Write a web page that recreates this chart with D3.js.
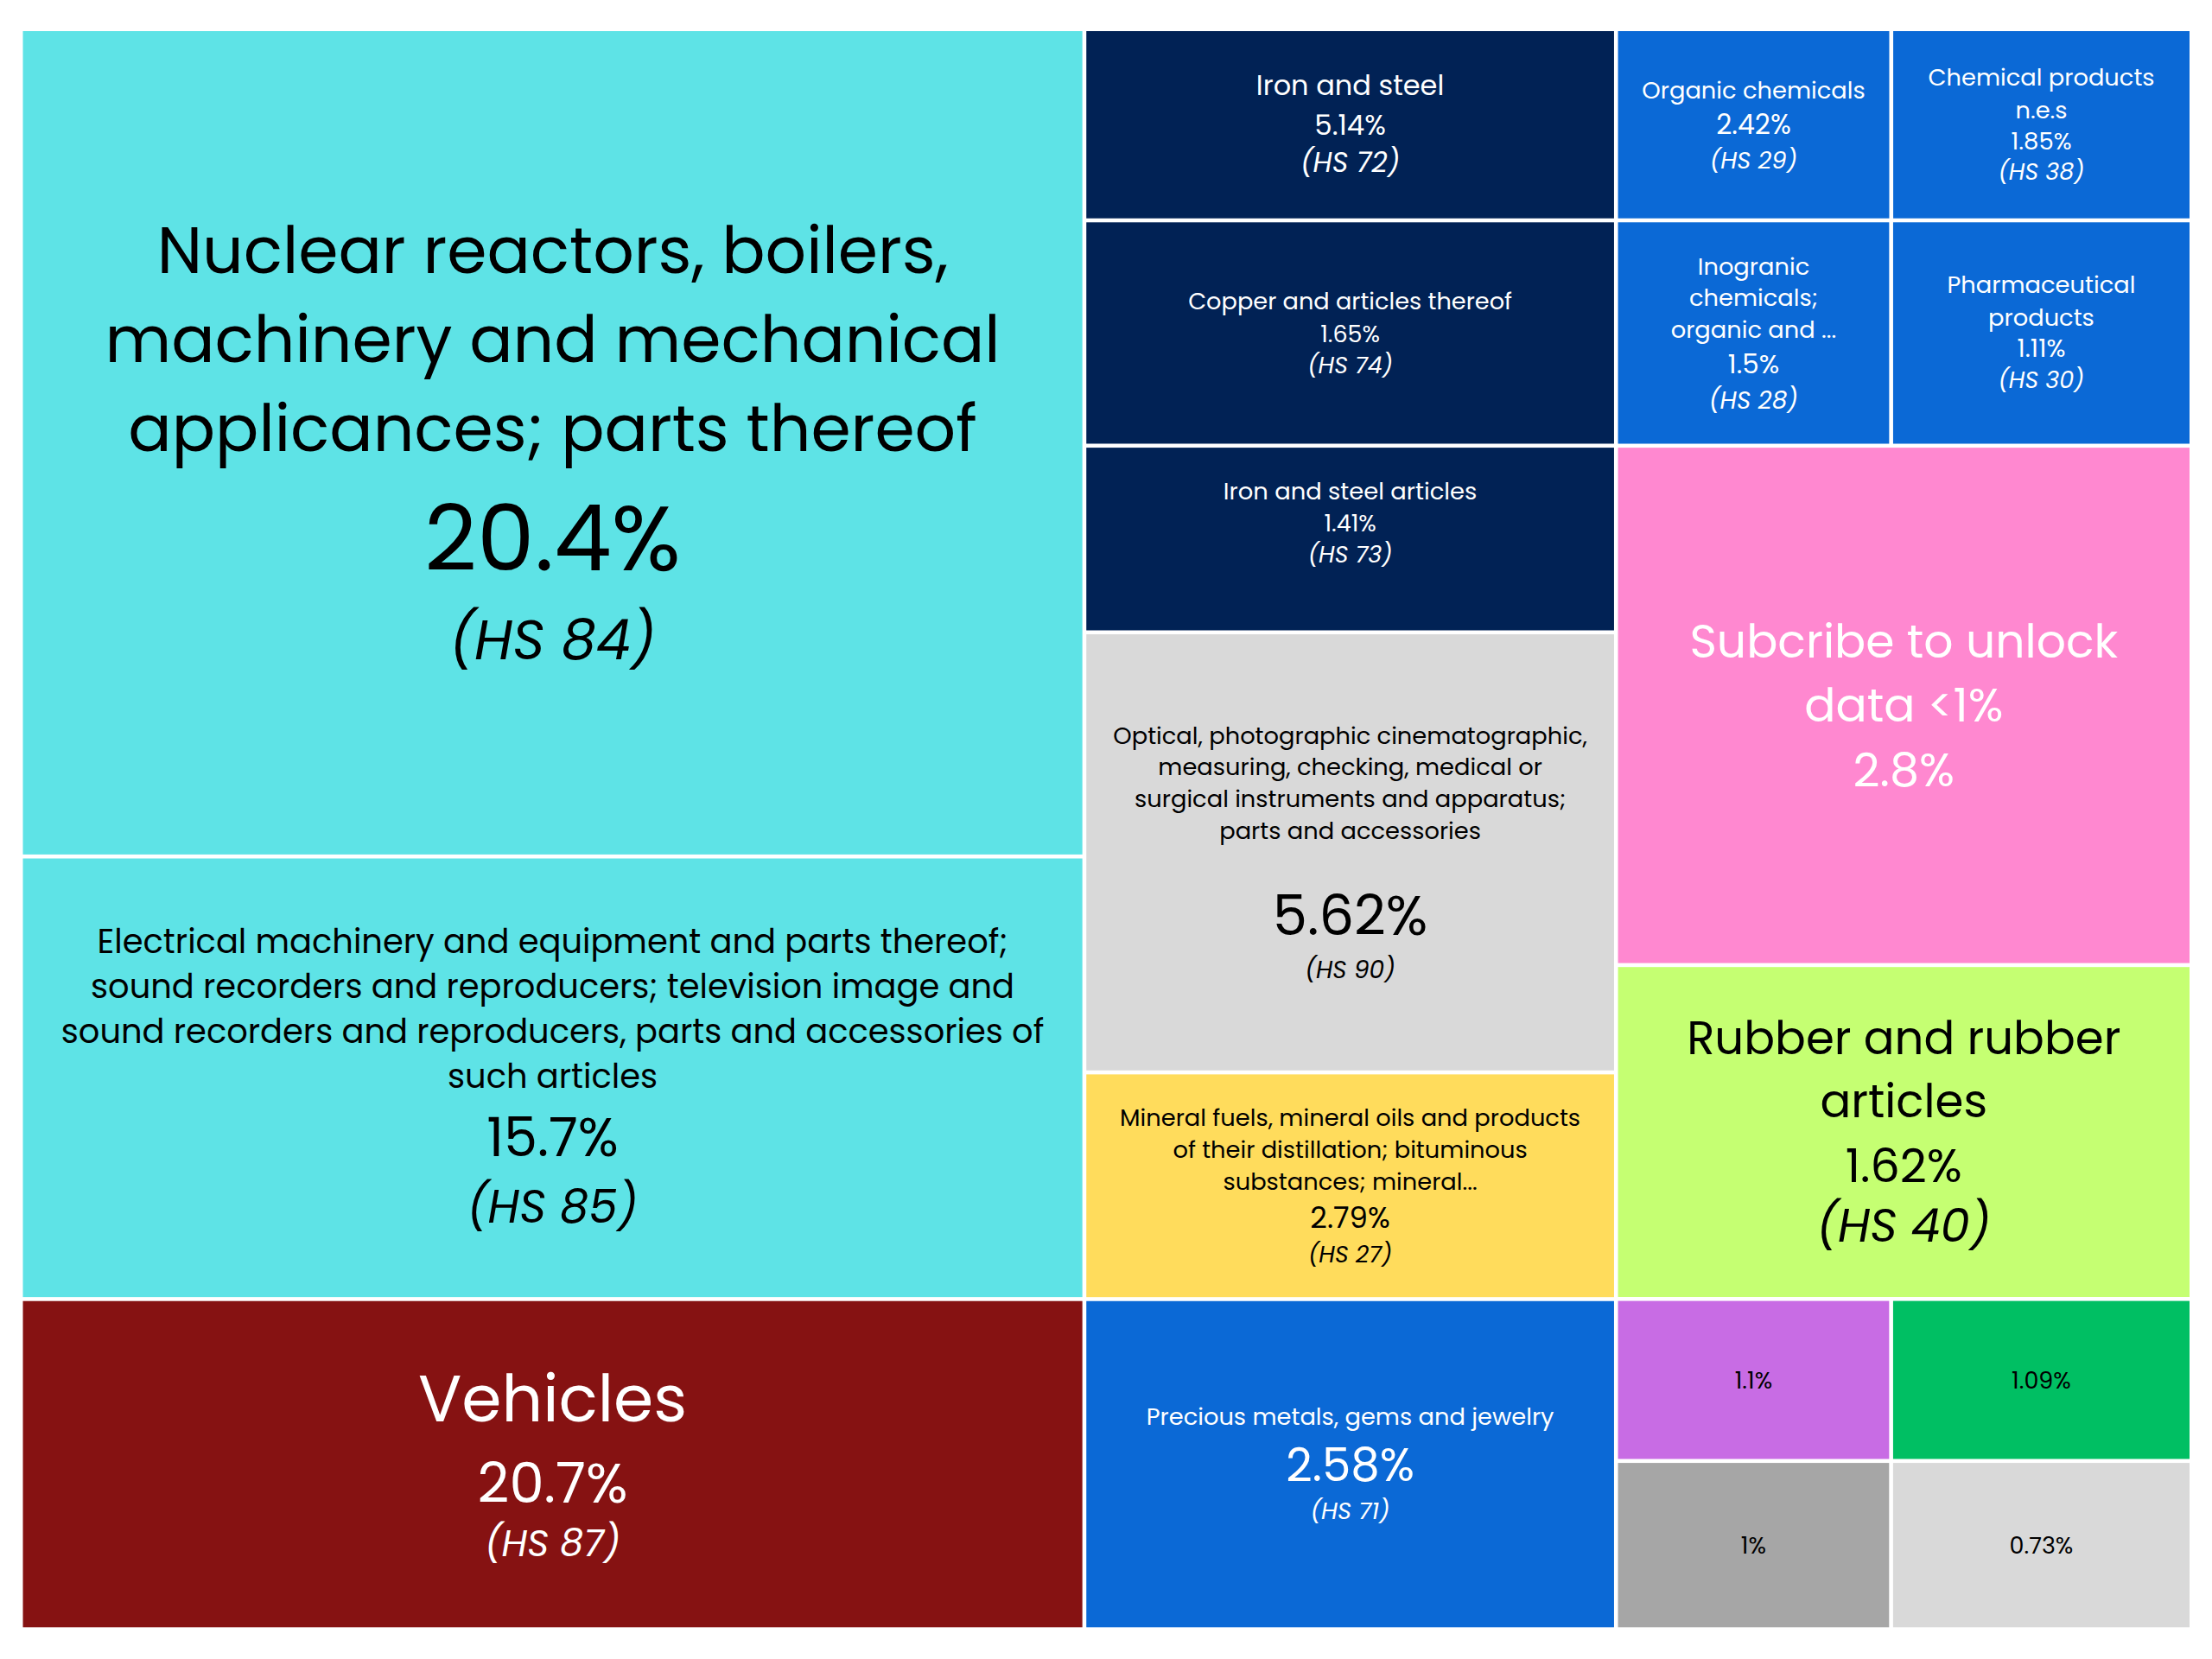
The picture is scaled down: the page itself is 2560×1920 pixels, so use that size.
<!DOCTYPE html>
<html>
<head>
<meta charset="utf-8">
<script src="https://cdn.jsdelivr.net/npm/d3@7"></script>
<style>
  html, body { margin: 0; padding: 0; background: #ffffff; }
  svg { display: block; }
</style>
</head>
<body>
<svg id="chart" width="2560" height="1920"></svg>
<script>
// ---------------- DATA ----------------
const categories = [
  "Nuclear reactors, boilers,\nmachinery and mechanical\napplicances; parts thereof",
  "Electrical machinery and equipment and parts thereof;\nsound recorders and reproducers; television image and\nsound recorders and reproducers, parts and accessories of\nsuch articles",
  "Vehicles",
  "Iron and steel",
  "Copper and articles thereof",
  "Iron and steel articles",
  "Optical, photographic cinematographic,\nmeasuring, checking, medical or\nsurgical instruments and apparatus;\nparts and accessories",
  "Mineral fuels, mineral oils and products\nof their distillation; bituminous\nsubstances; mineral...",
  "Precious metals, gems and jewelry",
  "Organic chemicals",
  "Chemical products\nn.e.s",
  "Inogranic\nchemicals;\norganic and ...",
  "Pharmaceutical\nproducts",
  "Subcribe to unlock\ndata <1%",
  "Rubber and rubber\narticles",
  "", "", "", ""
];
const hsCodes = [
  "HS 84", "HS 85", "HS 87",
  "HS 72", "HS 74", "HS 73", "HS 90", "HS 27", "HS 71",
  "HS 29", "HS 38", "HS 28", "HS 30", null, "HS 40",
  null, null, null, null
];
// share of exports shown in each tile (percent)
const tradeShares = [20.4, 15.7, 20.7, 5.14, 1.65, 1.41, 5.62, 2.79, 2.58,
                     2.42, 1.85, 1.5, 1.11, 2.8, 1.62, 1.1, 1.09, 1, 0.73];
// tile area (percent of the treemap)
const tileSizes = [25.33, 13.55, 10.11,
                   2.927, 3.449, 2.857, 6.736, 3.470, 5.054,
                   1.515, 1.653, 1.785, 1.949, 8.605, 5.532,
                   1.283, 1.401, 1.333, 1.456];
// nesting of the tiles: column, then row inside the column
const columnIds = ["A","A","A","B","B","B","B","B","B",
                   "C","C","C","C","C","C","C","C","C","C"];
const rowIds = ["a1","a2","a3","b1","b2","b3","b4","b5","b6",
                "c1","c1","c2","c2","c3","c4","c5","c5","c6","c6"];

// ---------------- STYLE ----------------
const fills = ["#5EE3E6","#5EE3E6","#861212",
               "#012255","#012255","#012255","#D9D9D9","#FFDC5C","#0B69D6",
               "#0B69D6","#0B69D6","#0B69D6","#0B69D6","#FF88D0","#C5FF72",
               "#C86CE4","#00BF63","#A6A6A6","#D9D9D9"];
const inks = ["#000","#000","#fff",
              "#fff","#fff","#fff","#000","#000","#fff",
              "#fff","#fff","#fff","#fff","#fff","#000",
              "#000","#000","#000","#000"];
// ns: name size, nlh: name line step, ps: share size, hs: code size,
// g1: name->share step, g2: share->code step, dy: block shift
const labelStyle = [
  {ns:74.5, nlh:103,  ps:106, hs:64,   g1:127,  g2:118,  dy:2},
  {ns:38.4, nlh:52,   ps:62,  hs:53,   g1:71,   g2:80,   dy:-4.7},
  {ns:74.5, nlh:0,    ps:64,  hs:43,   g1:97.5, g2:70,   dy:7.7},
  {ns:32,   nlh:0,    ps:32.5,hs:32,   g1:45,   g2:44,   dy:-1},
  {ns:27.2, nlh:0,    ps:27,  hs:27,   g1:37.5, g2:36,   dy:0},
  {ns:27.4, nlh:0,    ps:27,  hs:27,   g1:36.7, g2:36.7, dy:-18.8},
  {ns:27.3, nlh:36.7, ps:64,  hs:28,   g1:98.3, g2:63,   dy:0},
  {ns:27.3, nlh:36.7, ps:34,  hs:27,   g1:41.5, g2:42.7, dy:0},
  {ns:27.3, nlh:0,    ps:53,  hs:27.5, g1:55.5, g2:53.5, dy:-1},
  {ns:27.3, nlh:0,    ps:31.5,hs:27.5, g1:40,   g2:41,   dy:0},
  {ns:27.3, nlh:37.5, ps:27.5,hs:27,   g1:36,   g2:35,   dy:-0.7},
  {ns:27.3, nlh:36.5, ps:31,  hs:28,   g1:40.4, g2:42,   dy:0},
  {ns:27.3, nlh:37.5, ps:29,  hs:27,   g1:35.8, g2:36.6, dy:-1},
  {ns:53.6, nlh:73.5, ps:54,  hs:0,    g1:75,   g2:0,    dy:0},
  {ns:53,   nlh:73.3, ps:54,  hs:54,   g1:74,   g2:69.3, dy:-1},
  {ns:0,    nlh:0,    ps:27,  hs:0,    g1:0,    g2:0,    dy:0},
  {ns:0,    nlh:0,    ps:27,  hs:0,    g1:0,    g2:0,    dy:0},
  {ns:0,    nlh:0,    ps:27,  hs:0,    g1:0,    g2:0,    dy:0},
  {ns:0,    nlh:0,    ps:27,  hs:0,    g1:0,    g2:0,    dy:0}
];
const FONT = "Poppins, 'DejaVu Sans', sans-serif";
const frame = {left: 26.5, top: 36, right: 2534, bottom: 1883.3};
const gap = 4.6;

// ---------------- LAYOUT ----------------
const records = categories.map((name, i) => ({
  i, name, hs: hsCodes[i], share: tradeShares[i], area: tileSizes[i],
  col: columnIds[i], row: rowIds[i]
}));
const grouped = d3.group(records, d => d.col, d => d.row);
const root = d3.hierarchy(grouped).sum(d => (d && typeof d.area === "number") ? d.area : 0);

d3.treemap()
  .tile(d3.treemapSliceDice)
  .size([frame.right - frame.left, frame.bottom - frame.top])
  .paddingInner(gap)
  .round(false)(root);

const svg = d3.select("#chart");
svg.append("rect").attr("width", 2560).attr("height", 1920).attr("fill", "#fff");

const g = svg.append("g").attr("transform", `translate(${frame.left},${frame.top})`);

const cells = g.selectAll("g.cell")
  .data(root.leaves())
  .join("g")
  .attr("class", "cell");

cells.append("rect")
  .attr("x", d => d.x0)
  .attr("y", d => d.y0)
  .attr("width", d => d.x1 - d.x0)
  .attr("height", d => d.y1 - d.y0)
  .attr("fill", d => fills[d.data.i]);

cells.each(function(leaf) {
  const d = leaf.data, s = labelStyle[d.i];
  const cx = (leaf.x0 + leaf.x1) / 2;
  const cy = (leaf.y0 + leaf.y1) / 2;
  const lines = [];
  const nameLines = d.name ? d.name.split("\n") : [];
  let y = 0;
  nameLines.forEach((t, k) => {
    y = k * s.nlh;
    lines.push({t, size: s.ns, y, italic: false});
  });
  y = nameLines.length ? y + s.g1 : 0;
  lines.push({t: `${d.share}%`, size: s.ps, y, italic: false});
  if (d.hs) {
    y += s.g2;
    lines.push({t: `(${d.hs})`, size: s.hs, y, italic: true});
  }
  const mid = (lines[0].y + lines[lines.length - 1].y) / 2;
  const shift = cy - mid + s.dy;
  const sel = d3.select(this);
  lines.forEach(l => {
    sel.append("text")
      .attr("x", cx)
      .attr("y", l.y + shift + 0.36 * l.size)
      .attr("text-anchor", "middle")
      .attr("font-family", FONT)
      .attr("font-size", l.size)
      .attr("font-style", l.italic ? "italic" : "normal")
      .attr("fill", inks[d.i])
      .text(l.t);
  });
});
</script>
</body>
</html>
